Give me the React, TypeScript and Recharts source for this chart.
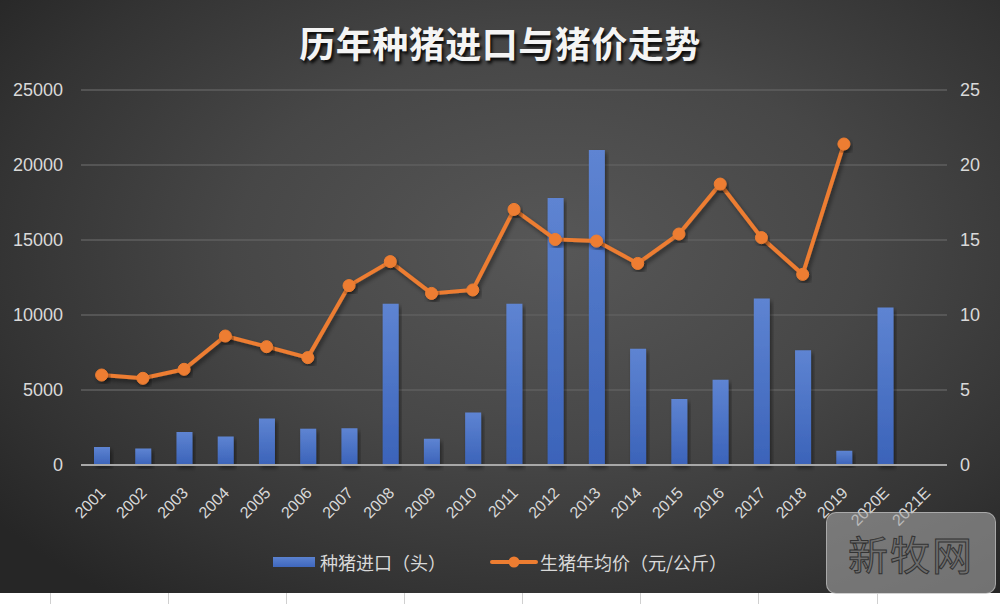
import React from "react";
import { ComposedChart, Bar, Line, XAxis, YAxis, CartesianGrid, Legend } from "recharts";

const years = ["2001","2002","2003","2004","2005","2006","2007","2008","2009","2010","2011","2012","2013","2014","2015","2016","2017","2018","2019","2020E","2021E"];
const breedingPigImports: (number | null)[] = [1200,1100,2200,1900,3100,2420,2450,10750,1750,3500,10750,17800,21000,7750,4400,5680,11100,7650,950,10500,null];
const hogAvgPrice: (number | null)[] = [6.0,5.78,6.38,8.6,7.89,7.16,11.96,13.56,11.44,11.67,17.04,15.04,14.93,13.44,15.4,18.73,15.16,12.71,21.4,null,null];
const leftTicks = [0,5000,10000,15000,20000,25000];
const rightTicks = [0,5,10,15,20,25];
const barName = "种猪进口（头）";
const lineName = "生猪年均价（元/公斤）";
const title = "历年种猪进口与猪价走势";

const data = years.map((y, i) => ({ year: y, imports: breedingPigImports[i], price: hogAvgPrice[i] }));

const FONT = "'Liberation Sans', 'Noto Sans CJK SC', sans-serif";
const TEXT = "#d9d9d9";

const XTick = (props: any) => {
  const { x, y, payload } = props;
  return (
    <g transform={`translate(${x + 5},${y + 29})`}>
      <text x={0} y={0} textAnchor="end" fill={TEXT} fontSize={16} fontFamily={FONT} transform="rotate(-45)">
        {payload.value}
      </text>
    </g>
  );
};

const LegendContent = () => (
  <div style={{ display: "flex", justifyContent: "center", alignItems: "center", height: 28, fontFamily: "'Noto Sans CJK SC', sans-serif", fontSize: 18, color: TEXT }}>
    <div style={{ display: "flex", alignItems: "center" }}>
      <div style={{ width: 42, height: 10, background: "linear-gradient(#5b82d0,#3f67bd)", marginRight: 5 }} />
      <span>{barName}</span>
    </div>
    <div style={{ display: "flex", alignItems: "center", marginLeft: 44 }}>
      <svg width={48} height={14} style={{ marginRight: 2 }}>
        <line x1={2} y1={7} x2={46} y2={7} stroke="#ED7D31" strokeWidth={4} strokeLinecap="round" />
        <circle cx={24} cy={7} r={5.5} fill="#ED7D31" />
      </svg>
      <span>{lineName}</span>
    </div>
  </div>
);

export default function App() {
  return (
    <div style={{ position: "absolute", left: 0, top: 0, width: 1000, height: 604, background: "#ffffff", overflow: "hidden" }}>
      <div style={{ position: "absolute", left: 0, top: 0, width: 1000, height: 593, background: "radial-gradient(ellipse 70% 75% at 55% 42%, #575757 0%, #474747 45%, #333333 80%, #262626 100%)" }}>
        <div style={{ position: "absolute", left: 0, top: 16, width: 1000, textAlign: "center", fontFamily: "'Noto Sans CJK SC', sans-serif", fontWeight: 700, fontSize: 36, color: "#f4f4f4", textShadow: "2px 3px 3px rgba(0,0,0,0.85)", letterSpacing: 0.5 }}>
          {title}
        </div>
        <ComposedChart width={1000} height={593} data={data} margin={{ top: 90, right: 0, bottom: 17, left: 0 }} style={{ position: "absolute", left: 0, top: 0 }}>
          <defs>
            <linearGradient id="barGrad" x1="0" y1="0" x2="0" y2="1">
              <stop offset="0%" stopColor="#5e84d2" />
              <stop offset="100%" stopColor="#3b63b9" />
            </linearGradient>
            <filter id="shadow" x="-10%" y="-10%" width="130%" height="130%">
              <feDropShadow dx="2" dy="3" stdDeviation="2" floodColor="#000" floodOpacity="0.45" />
            </filter>
          </defs>
          <CartesianGrid yAxisId="left" vertical={false} stroke="#5f5f5f" strokeWidth={1.5} />
          <XAxis dataKey="year" height={83} interval={0} tick={<XTick />} tickLine={false} tickSize={0} tickMargin={0} axisLine={{ stroke: "#a8a8a8", strokeWidth: 2 }} />
          <YAxis yAxisId="left" width={81} domain={[0, 25000]} ticks={leftTicks} axisLine={false} tickLine={false} tickSize={0} tickMargin={18} tick={{ fill: TEXT, fontSize: 18, fontFamily: FONT }} />
          <YAxis yAxisId="right" orientation="right" width={53} domain={[0, 25]} ticks={rightTicks} axisLine={false} tickLine={false} tickSize={0} tickMargin={13} tick={{ fill: TEXT, fontSize: 18, fontFamily: FONT }} />
          <Legend verticalAlign="bottom" height={28} content={<LegendContent />} />
          <Bar yAxisId="left" dataKey="imports" name={barName} fill="url(#barGrad)" barSize={16} isAnimationActive={false} filter="url(#shadow)" />
          <Line yAxisId="right" dataKey="price" name={lineName} type="linear" stroke="#ED7D31" strokeWidth={4} dot={{ r: 6, fill: "#ED7D31", stroke: "#ED7D31", strokeWidth: 1 }} activeDot={false} isAnimationActive={false} filter="url(#shadow)" />
        </ComposedChart>
        <div style={{ position: "absolute", left: 826, top: 512, width: 168, height: 80, borderRadius: 10, background: "rgba(165,165,165,0.6)", border: "1px solid rgba(220,220,220,0.5)", display: "flex", alignItems: "center", justifyContent: "center", fontFamily: "'Noto Sans CJK SC', sans-serif", fontSize: 40, color: "rgba(110,110,110,0.9)", WebkitTextStroke: "1px #333", letterSpacing: 2 }}>
          新牧网
        </div>
      </div>
      {[50, 168, 286, 404, 522, 640, 758, 877].map((x) => (
        <div key={x} style={{ position: "absolute", left: x, top: 593, width: 1, height: 11, background: "#d0d0d0" }} />
      ))}
    </div>
  );
}
